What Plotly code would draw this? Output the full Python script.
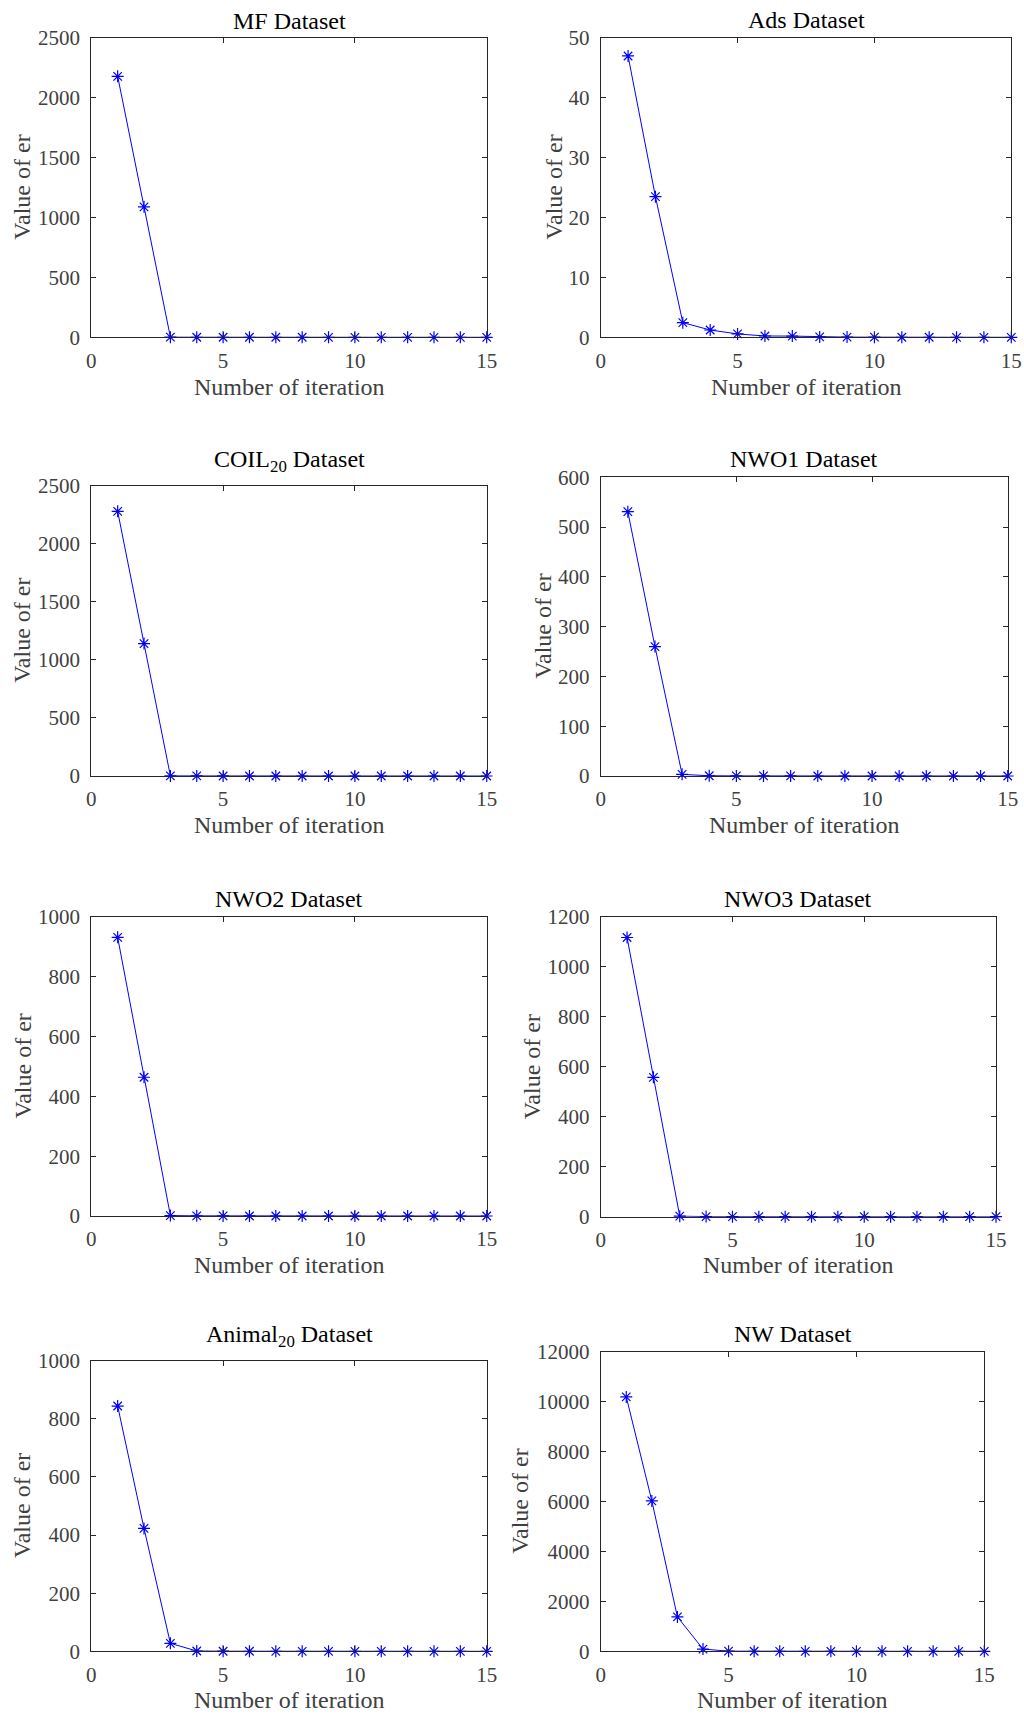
import plotly.graph_objects as go

# Iteration index shared by all panels
iterations = list(range(1, 16))

# Value of er per iteration for each dataset
er_mf = [2180, 1090, 1, 0.5, 0.3, 0.2, 0.1, 0.1, 0, 0, 0, 0, 0, 0, 0]
er_ads = [47.0, 23.5, 2.45, 1.22, 0.56, 0.22, 0.2, 0.06, 0.03, 0.02, 0.01, 0.01, 0, 0, 0]
er_coil = [2279, 1140, 1, 0.5, 0.3, 0.2, 0.1, 0.1, 0, 0, 0, 0, 0, 0, 0]
er_nwo1 = [531, 260, 3.3, 0.5, 0.2, 0.1, 0.1, 0, 0, 0, 0, 0, 0, 0, 0]
er_nwo2 = [932, 464, 1.5, 0.5, 0.2, 0.1, 0, 0, 0, 0, 0, 0, 0, 0, 0]
er_nwo3 = [1118, 558, 2, 0.5, 0.2, 0.1, 0, 0, 0, 0, 0, 0, 0, 0, 0]
er_animal = [844, 423, 27.5, 1, 0.3, 0.1, 0, 0, 0, 0, 0, 0, 0, 0, 0]
er_nw = [10200, 6030, 1380, 90, 5, 1, 0, 0, 0, 0, 0, 0, 0, 0, 0]

titles = ["MF Dataset", "Ads Dataset", "COIL<sub>20</sub> Dataset", "NWO1 Dataset",
          "NWO2 Dataset", "NWO3 Dataset", "Animal<sub>20</sub> Dataset", "NW Dataset"]
series = [er_mf, er_ads, er_coil, er_nwo1, er_nwo2, er_nwo3, er_animal, er_nw]
y_max = [2500, 50, 2500, 600, 1000, 1200, 1000, 12000]
y_step = [500, 10, 500, 100, 200, 200, 200, 2000]

W, H = 1024, 1714
# Axes boxes in pixels: left, right, top, bottom
boxes = [
    (91.3, 486.7, 38, 337.3), (600.7, 1011.3, 38, 337.3),
    (91.3, 486.7, 485.7, 776), (600.7, 1007.7, 477.3, 776),
    (91.3, 486.7, 917, 1216), (600.7, 996, 917, 1216.7),
    (91.3, 486.7, 1360.7, 1651.3), (600.7, 984.3, 1352, 1651.3),
]
title_y = [21, 20, 461, 459, 899, 899, 1336, 1334]
ylab_x = [22, 554, 22, 543, 22, 531.5, 22, 520]
xlab_y = [387, 387, 825, 825, 1265, 1265, 1700, 1700]

SERIF = "Liberation Serif, Times New Roman, serif"
AX_COLOR = "#262626"
TXT_COLOR = "#404040"

fig = go.Figure()
annotations = []
layout = {}
for i, (vals, ttl, ymx, ystp, box) in enumerate(zip(series, titles, y_max, y_step, boxes)):
    k = "" if i == 0 else str(i + 1)
    l, r, t, b = box
    fig.add_trace(go.Scatter(
        x=iterations, y=vals, mode="lines+markers",
        xaxis="x" + k, yaxis="y" + k,
        line=dict(color="#0000FF", width=1),
        marker=dict(symbol="asterisk-open", size=10, color="#0000FF",
                    line=dict(color="#0000FF", width=1.2)),
        cliponaxis=False, showlegend=False,
    ))
    common = dict(showline=True, linecolor=AX_COLOR, linewidth=1, mirror="ticks",
                  ticks="inside", ticklen=5, tickcolor=AX_COLOR, showgrid=False,
                  zeroline=False, automargin=False, tickformat="d",
                  tickfont=dict(family=SERIF, size=21, color=TXT_COLOR))
    layout["xaxis" + k] = dict(domain=[l / W, r / W], anchor="y" + k, range=[0, 15],
                               tick0=0, dtick=5, ticklabelstandoff=4, **common)
    layout["yaxis" + k] = dict(domain=[1 - b / H, 1 - t / H], anchor="x" + k,
                               range=[0, ymx], tick0=0, dtick=ystp,
                               ticklabelstandoff=6, **common)
    cx = (l + r) / 2
    annotations.append(dict(text=ttl, x=cx / W, y=1 - title_y[i] / H, xref="paper",
                            yref="paper", xanchor="center", yanchor="middle",
                            showarrow=False, font=dict(family=SERIF, size=24, color="black")))
    annotations.append(dict(text="Number of iteration", x=cx / W, y=1 - xlab_y[i] / H,
                            xref="paper", yref="paper", xanchor="center", yanchor="middle",
                            showarrow=False, font=dict(family=SERIF, size=24, color=TXT_COLOR)))
    annotations.append(dict(text="Value of er", x=ylab_x[i] / W, y=1 - ((t + b) / 2) / H,
                            xref="paper", yref="paper", xanchor="center", yanchor="middle",
                            textangle=-90, showarrow=False,
                            font=dict(family=SERIF, size=24, color=TXT_COLOR)))

fig.update_layout(template="none", width=W, height=H, margin=dict(l=0, r=0, t=0, b=0),
                  paper_bgcolor="white", plot_bgcolor="white",
                  annotations=annotations, **layout)
fig.write_html("out.html")
